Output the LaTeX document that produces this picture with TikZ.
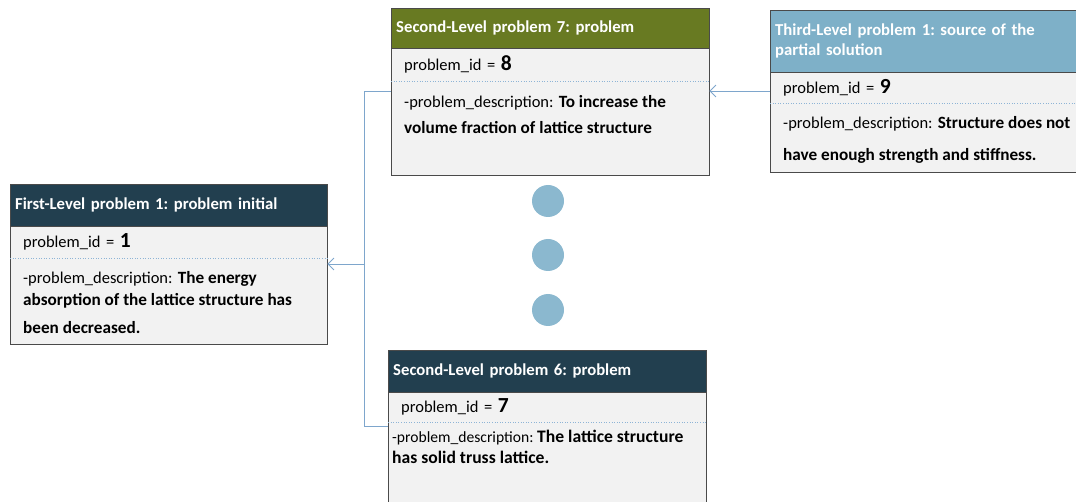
\documentclass[tikz,border=0pt]{standalone}
\usepackage{fontspec}
\setmainfont{Carlito}
\usetikzlibrary{arrows.meta}
\frenchspacing

\definecolor{headdark}{HTML}{223F4F}
\definecolor{headolive}{HTML}{687A22}
\definecolor{headlight}{HTML}{7EB0C8}
\definecolor{bodygray}{HTML}{F2F2F2}
\definecolor{boxline}{HTML}{4A4A4A}
\definecolor{sepblue}{HTML}{8EB4D6}
\definecolor{linkblue}{HTML}{7EA6CC}
\definecolor{dotblue}{HTML}{8BB8CF}

\newcommand{\numfont}{\fontsize{21.5}{21.5}\selectfont\bfseries}
\newcommand{\bdesc}[1]{{\fontsize{17.2}{22}\selectfont\bfseries #1}}

\tikzset{
  head/.style={draw=boxline, text=white, anchor=north west, align=left,
    inner xsep=5pt, inner ysep=0pt, font=\fontsize{16.7}{20}\selectfont\bfseries},
  body/.style={draw=boxline, fill=bodygray, anchor=north west, inner sep=0pt},
  idrow/.style={anchor=north west, align=left, inner xsep=13pt, inner ysep=0pt,
    font=\fontsize{16.5}{22}\selectfont},
  desc/.style={anchor=north west, align=left, inner sep=0pt,
    font=\fontsize{16.5}{22}\selectfont},
  sep/.style={draw=sepblue, dotted, line width=0.6pt},
  link/.style={draw=linkblue, line width=0.8pt},
  tip/.style={-{Straight Barb[length=6pt,width=12pt]}},
  dot/.style={circle, fill=dotblue, minimum size=32pt, inner sep=0pt}
}

\begin{document}
\begin{tikzpicture}[x=1pt,y=-1pt]
  \useasboundingbox (0,0) rectangle (1076,502);
  \clip (0,0) rectangle (1076,502);

  % first level
  \node[body, minimum width=317, minimum height=118] (b1) at (10,226) {};
  \node[head, fill=headdark, text width=307, minimum height=42] (h1) at (10,184)
    {First-Level problem 1: problem initial};
  \node[idrow, text width=291, minimum height=32] (i1) at (10,226)
    {problem\_id = {\numfont 1}};
  \draw[sep] (i1.south west) -- (i1.south east);
  \node[desc] (d1) at (23,271)
    {-problem\_description:\hspace{1.5pt} \bdesc{The energy}\\
     \bdesc{absorption of the lattice structure has}\\[6pt]
     \bdesc{been decreased.}};

  % second level, problem 7
  \node[body, minimum width=318, minimum height=127] (b7) at (391,48) {};
  \node[head, fill=headolive, text width=308, minimum height=40] (h7) at (391,8)
    {Second-Level problem 7: problem};
  \node[idrow, text width=292, minimum height=33] (i7) at (391,48)
    {problem\_id = {\numfont 8}};
  \draw[sep] (i7.south west) -- (i7.south east);
  \node[desc] (d7) at (404,95)
    {-problem\_description:\hspace{1.5pt} \bdesc{To increase the}\\[4pt]
     \bdesc{volume fraction of lattice structure}};

  % third level
  \node[body, minimum width=320, minimum height=100] (b9) at (770,72) {};
  \node[head, fill=headlight, text width=310, minimum height=62] (h9) at (770,10)
    {Third-Level problem 1: source of the\\partial solution};
  \node[idrow, text width=294, minimum height=31] (i9) at (770,72)
    {problem\_id = {\numfont 9}};
  \draw[sep] (i9.south west) -- (i9.south east);
  \node[desc] (d9) at (783,116)
    {-problem\_description:\hspace{1.5pt} \bdesc{Structure does not}\\[10pt]
     \bdesc{have enough strength and stiffness.}};

  % second level, problem 6
  \node[body, minimum width=318, minimum height=130] (b6) at (388,392) {};
  \node[head, fill=headdark, text width=308, minimum height=42] (h6) at (388,350)
    {Second-Level problem 6: problem};
  \node[idrow, text width=292, minimum height=30] (i6) at (388,392)
    {problem\_id = {\numfont 7}};
  \draw[sep] (i6.south west) -- (i6.south east);
  \node[desc] (d6) at (392,430)
    {{\fontsize{15.6}{20}\selectfont -problem\_description:}
     {\fontsize{17.6}{20}\selectfont\bfseries The lattice structure}\\[-1pt]
     {\fontsize{17.6}{20}\selectfont\bfseries has solid truss lattice.}};

  % dots
  \foreach \y/\n in {201/1,255/2,310/3}
    \node[dot] (c\n) at (548,\y) {};

  % connectors
  \coordinate (jt) at (364,91);
  \coordinate (jm) at (364,264);
  \coordinate (jb) at (364,426);
  \draw[link] (b7.west |- jt) -- (jt) -- (jb) -- (b6.west |- jb);
  \draw[link,tip] (jm) -- (jm -| b1.east);
  \draw[link,tip] (b9.west |- jt) -- (b7.east |- jt);

\end{tikzpicture}
\end{document}
